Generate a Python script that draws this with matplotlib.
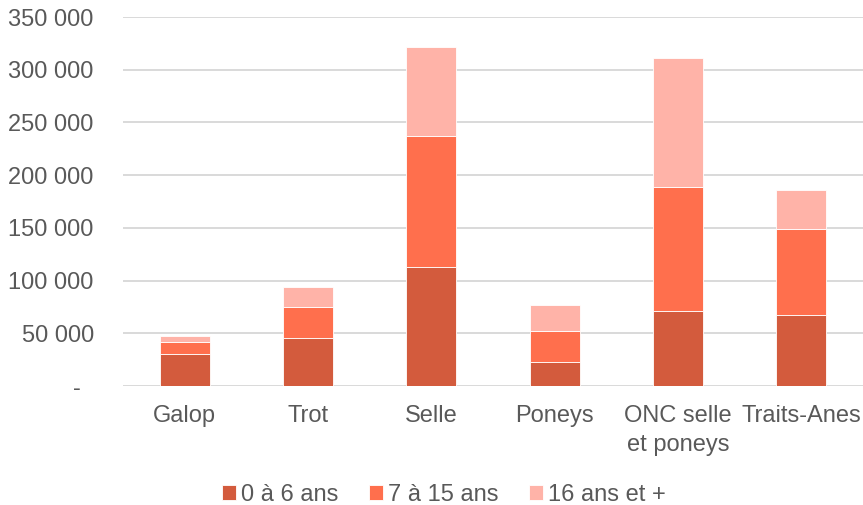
import matplotlib.pyplot as plt
import numpy as np

plt.rcParams['font.family'] = ['Liberation Sans', 'DejaVu Sans']

categories = ['Galop', 'Trot', 'Selle', 'Poneys', 'ONC selle\net poneys', 'Traits-Anes']
age_0_6 = [30500, 46000, 112500, 23000, 71500, 67500]
age_7_15 = [11500, 29000, 124500, 29000, 117000, 81500]
age_16_plus = [5000, 19000, 85000, 25000, 122500, 36500]
series_labels = ['0 à 6 ans', '7 à 15 ans', '16 ans et +']
colors = ['#D35B3D', '#FF6F4D', '#FFB3A8']
yticks = [0, 50000, 100000, 150000, 200000, 250000, 300000, 350000]

text_color = '#595959'

fig = plt.figure(figsize=(8.63, 5.05), dpi=100)
ax = fig.add_axes([0.1425, 0.2356, 0.8575, 0.7307])

x = np.arange(len(categories))
bottom = np.zeros(len(categories))
for vals, lab, col in zip([age_0_6, age_7_15, age_16_plus], series_labels, colors):
    ax.bar(x, vals, width=0.405, bottom=bottom, color=col, label=lab,
           edgecolor='white', linewidth=0.6, zorder=3)
    bottom += np.array(vals)

ax.set_xlim(-0.5, len(categories) - 0.5)
ax.set_ylim(0, 350000)
ax.set_yticks(yticks)
ax.set_yticklabels(['-  ' if v == 0 else '{:,}'.format(v).replace(',', ' ') for v in yticks])
ax.set_xticks(x)
ax.set_xticklabels(categories, linespacing=1.38)

ax.grid(axis='y', color='#D9D9D9', linewidth=1.4, zorder=0)
for s in ax.spines.values():
    s.set_visible(False)
ax.tick_params(axis='both', length=0, labelsize=17, colors=text_color)
ax.tick_params(axis='y', pad=21)
ax.tick_params(axis='x', pad=14)

leg = fig.legend(loc='center', bbox_to_anchor=(0.514, 0.02), ncol=3, frameon=False,
                 fontsize=17, handlelength=0.6, handleheight=0.6, handletextpad=0.2,
                 columnspacing=1.3)
for t in leg.get_texts():
    t.set_color(text_color)

fig.savefig('out.png', dpi=100)
